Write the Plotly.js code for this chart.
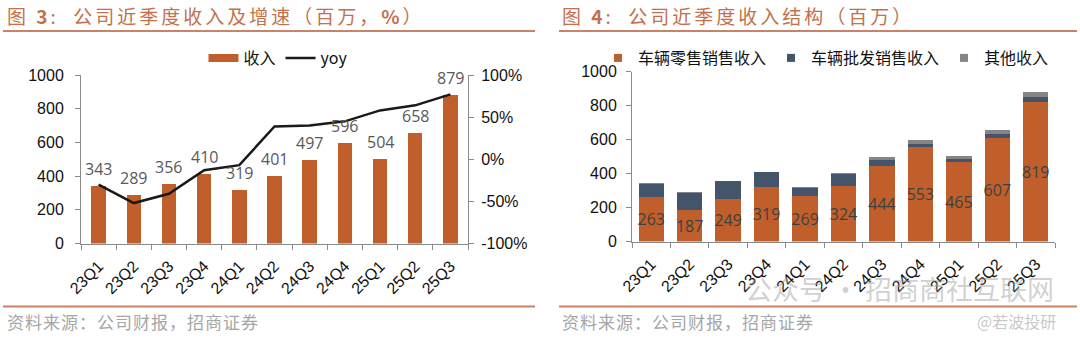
<!DOCTYPE html>
<html>
<head>
<meta charset="utf-8">
<script src="https://cdn.plot.ly/plotly-3.0.1.min.js"></script>
<style>
  html, body { margin: 0; padding: 0; background: #fff; }
  #chart { width: 1080px; height: 341px; }
</style>
</head>
<body>
<div id="chart"></div>
<script>
// ---------- data ----------
const quarters  = ['23Q1','23Q2','23Q3','23Q4','24Q1','24Q2','24Q3','24Q4','25Q1','25Q2','25Q3'];
const revenue   = [343, 289, 356, 410, 319, 401, 497, 596, 504, 658, 879];
const yoy       = [-30, -52, -41, -13, -7, 39, 40, 45, 58, 64, 77];
const retail    = [263, 187, 249, 319, 269, 324, 444, 553, 465, 607, 819];
const wholesale = [78, 100, 104, 87, 47, 72, 38, 23, 23, 27, 30];
const other     = [2, 2, 3, 4, 3, 5, 15, 20, 16, 24, 30];

const leftTicks  = [0, 200, 400, 600, 800, 1000];
const yoyTicks   = [-100, -50, 0, 50, 100];

// ---------- style ----------
const ORANGE = '#C05F2B';
const NAVY   = '#44546A';
const GREY   = '#858585';
const AXIS   = '#8A8A8A';
const TITLE  = '#C3704C';
const RULE   = '#C98468';
const LAT    = 'Liberation Sans, Arial, sans-serif';
const CJK    = 'Noto Sans CJK SC, sans-serif';
const LBL    = 'Open Sans, sans-serif';

const W = 1080, H = 341;
const px = v => v / W;
const py = v => 1 - v / H;

const traces = [
  // left chart: revenue bars
  { type:'bar', x: quarters, y: revenue, xaxis:'x', yaxis:'y', name:'收入',
    marker:{color:ORANGE}, showlegend:false, hoverinfo:'skip' },
  // legend proxy for revenue (wide swatch)
  { type:'scatter', mode:'lines', x:[null], y:[null], xaxis:'x', yaxis:'y', name:'收入',
    line:{color:ORANGE, width:8}, legend:'legend', hoverinfo:'skip' },
  // yoy line
  { type:'scatter', mode:'lines', x: quarters, y: yoy, xaxis:'x', yaxis:'y2', name:'yoy',
    line:{color:'#1A1A1A', width:2.5}, legend:'legend', hoverinfo:'skip' },

  // right chart: stacked structure
  { type:'bar', x: quarters, y: retail, xaxis:'x2', yaxis:'y3', name:'车辆零售销售收入',
    marker:{color:ORANGE}, showlegend:false, hoverinfo:'skip',
    texttemplate:'%{y}', textposition:'inside', insidetextanchor:'middle', constraintext:'none',
    textangle:0, textfont:{family:LBL, size:16, color:'#3F3F3F'} },
  { type:'bar', x: quarters, y: wholesale, xaxis:'x2', yaxis:'y3', name:'车辆批发销售收入',
    marker:{color:NAVY}, showlegend:false, hoverinfo:'skip', textposition:'none' },
  { type:'bar', x: quarters, y: other, xaxis:'x2', yaxis:'y3', name:'其他收入',
    marker:{color:GREY}, showlegend:false, hoverinfo:'skip', textposition:'none' },
  // legend proxies (small squares)
  { type:'scatter', mode:'markers', x:[null], y:[null], xaxis:'x2', yaxis:'y3', name:'车辆零售销售收入',
    marker:{color:ORANGE, symbol:'square', size:8}, legend:'legend2', hoverinfo:'skip' },
  { type:'scatter', mode:'markers', x:[null], y:[null], xaxis:'x2', yaxis:'y3', name:'车辆批发销售收入',
    marker:{color:NAVY, symbol:'square', size:8}, legend:'legend2', hoverinfo:'skip' },
  { type:'scatter', mode:'markers', x:[null], y:[null], xaxis:'x2', yaxis:'y3', name:'其他收入',
    marker:{color:GREY, symbol:'square', size:8}, legend:'legend2', hoverinfo:'skip' }
];

const tickFont = {family:LAT, size:16, color:'#111'};
const xCommon = {
  type:'category', categoryorder:'array', categoryarray: quarters,
  showline:true, linecolor:AXIS, linewidth:1, ticks:'outside', ticklen:5, tickcolor:AXIS,
  tickson:'boundaries', tickangle:-45, tickfont:tickFont, showgrid:false, zeroline:false,
  ticklabelstandoff:6, fixedrange:true
};
const yCommon = {
  showline:true, linecolor:AXIS, linewidth:1, ticks:'outside', ticklen:5, tickcolor:AXIS,
  tickfont:tickFont, showgrid:false, zeroline:false, fixedrange:true
};

// data labels for left chart (above bars)
const annotations = revenue.map((v, i) => ({
  x: quarters[i], y: v, xref:'x', yref:'y', text: String(v), showarrow:false,
  yanchor:'middle', yshift:17, font:{family:LBL, size:16, color:'#595959'}
}));

const sp = (t, ls) => '<span style="letter-spacing:' + ls + 'px">' + t + '</span>';

annotations.push(
  { xref:'paper', yref:'paper', x:px(5), y:py(15.5), xanchor:'left', yanchor:'middle', showarrow:false,
    text: sp('图 <b>3</b>:  公司近季度收入及增速（百万，<b>%</b>）', 3),
    font:{family:CJK, size:19, color:TITLE} },
  { xref:'paper', yref:'paper', x:px(560), y:py(15.5), xanchor:'left', yanchor:'middle', showarrow:false,
    text: sp('图 <b>4</b>:  公司近季度收入结构（百万）', 3),
    font:{family:CJK, size:19, color:TITLE} },
  { xref:'paper', yref:'paper', x:px(5), y:py(321), xanchor:'left', yanchor:'middle', showarrow:false,
    text: sp('资料来源：公司财报，招商证券', 1),
    font:{family:CJK, size:17, color:'#A6A6A6'} },
  { xref:'paper', yref:'paper', x:px(560), y:py(321), xanchor:'left', yanchor:'middle', showarrow:false,
    text: sp('资料来源：公司财报，招商证券', 1),
    font:{family:CJK, size:17, color:'#A6A6A6'} },
  // watermarks
  { xref:'paper', yref:'paper', x:px(1056), y:py(288), xanchor:'right', yanchor:'middle', showarrow:false,
    text:'公众号 · 招商商社互联网', font:{family:CJK, size:27, color:'rgba(150,150,150,0.45)'} },
  { xref:'paper', yref:'paper', x:px(1058), y:py(321), xanchor:'right', yanchor:'middle', showarrow:false,
    text:'@若波投研', font:{family:CJK, size:16, color:'rgba(150,150,150,0.55)'} }
);

const shapes = [
  { type:'line', xref:'paper', yref:'paper', x0:px(3),   x1:px(535),  y0:py(31),    y1:py(31),    line:{color:RULE, width:2} },
  { type:'line', xref:'paper', yref:'paper', x0:px(559), x1:px(1077), y0:py(31),    y1:py(31),    line:{color:RULE, width:2} },
  { type:'line', xref:'paper', yref:'paper', x0:px(3),   x1:px(535),  y0:py(306.5), y1:py(306.5), line:{color:RULE, width:2} },
  { type:'line', xref:'paper', yref:'paper', x0:px(559), x1:px(1077), y0:py(306.5), y1:py(306.5), line:{color:RULE, width:2} }
];

const layout = {
  width: W, height: H,
  margin:{l:0, r:0, t:0, b:0, pad:0},
  paper_bgcolor:'#fff', plot_bgcolor:'rgba(0,0,0,0)',
  barmode:'stack',
  showlegend:true,
  font:{family:LAT, color:'#111'},
  xaxis: Object.assign({}, xCommon, {domain:[px(81), px(468)], anchor:'y'}),
  yaxis: Object.assign({}, yCommon, {domain:[py(243.5), py(75)], anchor:'x', range:[0,1000],
           tickvals:leftTicks, ticktext:leftTicks.map(String), ticklabelstandoff:8}),
  yaxis2: Object.assign({}, yCommon, {overlaying:'y', side:'right', anchor:'x', range:[-100,100],
           tickvals:yoyTicks, ticktext:yoyTicks.map(v => v + '%'), ticklabelstandoff:4}),
  xaxis2: Object.assign({}, xCommon, {domain:[px(632), px(1055)], anchor:'y3'}),
  yaxis3: Object.assign({}, yCommon, {domain:[py(241.5), py(71.5)], anchor:'x2', range:[0,1000],
           tickvals:leftTicks, ticktext:leftTicks.map(String), ticklabelstandoff:6}),
  bargap: 0.59,
  legend:{orientation:'h', x:px(278), y:py(58), xanchor:'center', yanchor:'middle', traceorder:'normal',
          bgcolor:'rgba(0,0,0,0)', font:{family:CJK, size:16, color:'#111'},
          itemwidth:30, itemclick:false, itemdoubleclick:false},
  legend2:{orientation:'h', x:px(598), y:py(58), xanchor:'left', yanchor:'middle', traceorder:'normal',
          bgcolor:'rgba(0,0,0,0)', font:{family:CJK, size:16, color:'#111'},
          itemwidth:30, itemclick:false, itemdoubleclick:false},
  annotations: annotations,
  shapes: shapes
};

Plotly.newPlot('chart', traces, layout, {displayModeBar:false, staticPlot:true}).then(function(){
  // right chart has wider bars than the left one
  Plotly.restyle('chart', {width: quarters.map(() => 0.66)}, [3,4,5]);
});
</script>
</body>
</html>
